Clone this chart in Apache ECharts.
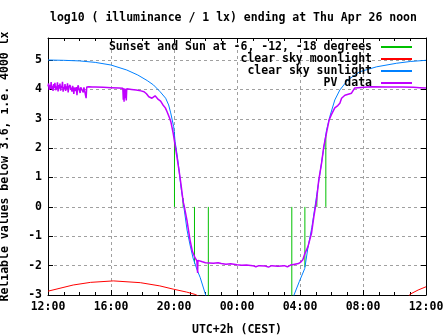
<!DOCTYPE html>
<html><head><meta charset="utf-8">
<script src="https://cdn.jsdelivr.net/npm/echarts/dist/echarts.min.js"></script>
<style>html,body{margin:0;padding:0;background:#fff}#c{width:447px;height:335px}</style>
</head><body><div id="c"></div><script>
// x values are hours since Wed 12:00 (CEST)
const xTickLabels = ['12:00','16:00','20:00','00:00','04:00','08:00','12:00'];
const titleText = 'log10 ( illuminance / 1 lx) ending at Thu Apr 26 noon';
const yAxisTitle = 'Reliable values below 3.6, i.e. 4000 lx';
const xAxisTitle = 'UTC+2h (CEST)';
const seriesNames = ['Sunset and Sun at -6, -12, -18 degrees','clear sky moonlight','clear sky sunlight','PV data'];

// Sun events (impulses from 0): sunset, -6, -12, -18, -18, -12, -6, sunrise
const sunEventHours  = [8.03, 8.58, 9.30, 10.18, 15.48, 16.31, 17.07, 17.64];
const sunEventValues = [2.55, 0.30, -1.93, -3.6, -3.6, -2.05, 0.40, 2.45];

const moonHours  = [0, 0.1, 1.6, 2.7, 4.15, 5.86, 7.1, 7.95, 8.8, 9.34, 9.6, 9.7, 22.9, 23.0, 23.5, 24];
const moonValues = [-2.87, -2.85, -2.66, -2.57, -2.52, -2.58, -2.69, -2.8, -2.9, -2.98, -3.05, null, -3.05, -2.97, -2.83, -2.72];

const sunHours  = [0, 1, 2, 3, 4, 5, 5.7, 6.3, 6.7, 7.12, 7.47, 7.66, 7.79, 7.98, 8.07, 8.2, 8.33, 8.45, 8.58, 8.83, 9.02, 9.21, 9.47, 9.66, 9.91, 10.1, 10.4, 12,
  15.4, 15.62, 15.95, 16.3, 16.5, 16.75, 16.95, 17.2, 17.45, 17.68, 17.89, 18.21, 18.53, 19.03, 19.79, 20.87, 22.13, 23.0, 24];
const sunValues = [5.0, 4.99, 4.97, 4.92, 4.83, 4.66, 4.49, 4.3, 4.15, 3.92, 3.7, 3.47, 3.2, 2.73, 2.22, 1.77, 1.2, 0.64, 0.18, -0.79, -1.3, -1.74, -2.15, -2.4, -2.83, -3.15, -3.6, null,
  -3.6, -3.0, -2.55, -2.1, -1.4, -0.7, 0.0, 0.9, 1.8, 2.6, 3.07, 3.64, 3.98, 4.32, 4.6, 4.77, 4.89, 4.95, 4.99];

const pvHours = [0, 0.04, 0.08, 0.12, 0.16, 0.2, 0.24, 0.28, 0.32, 0.36, 0.4, 0.44, 0.48, 0.52, 0.56, 0.6, 0.64, 0.68, 0.72, 0.76, 0.8, 0.84, 0.88, 0.92, 0.96,
  1.0, 1.04, 1.08, 1.12, 1.16, 1.2, 1.24, 1.28, 1.32, 1.36, 1.4, 1.44, 1.48, 1.52, 1.56, 1.6, 1.64, 1.68, 1.72, 1.76, 1.8, 1.84, 1.88, 1.92, 1.96,
  2.0, 2.04, 2.08, 2.12, 2.16, 2.2, 2.24, 2.28, 2.35, 2.42, 2.46, 2.6, 2.8, 3.0, 3.5, 4.0, 4.5, 4.75, 4.78, 4.8, 4.83, 4.86, 4.9, 4.93, 4.97, 5.0,
  5.3, 5.6, 5.9, 6.1, 6.25, 6.4, 6.5, 6.6, 6.7, 6.8, 6.9, 7.0, 7.15, 7.3, 7.45, 7.56, 7.7, 7.8, 7.95, 8.07, 8.2, 8.33, 8.45, 8.58, 8.64, 8.82,
  9.02, 9.17, 9.34, 9.45, 9.5, 9.52, 9.6, 9.8, 10.0, 10.5, 10.8, 11.0, 11.3, 11.6, 12.0, 12.3, 12.6, 13.0, 13.2, 13.4, 13.8, 14.0, 14.2, 14.6,
  15.0, 15.2, 15.4, 15.6, 15.9, 16.05, 16.18, 16.3, 16.5, 16.73, 16.88, 17.05, 17.19, 17.37, 17.51, 17.68, 17.85, 18.0, 18.21, 18.4, 18.53,
  18.64, 18.85, 19.27, 19.48, 19.6, 20.5, 21.5, 22.5, 23.2, 23.6, 24];
const pvValues = [4.10, 4.20, 3.98, 4.15, 4.02, 4.25, 4.00, 4.12, 3.95, 4.18, 4.05, 4.22, 3.97, 4.10, 4.00, 4.24, 3.93, 4.15, 4.03, 4.20, 3.96, 4.12, 4.05, 4.26, 3.92,
  4.08, 4.00, 4.18, 3.95, 4.10, 4.02, 4.21, 3.90, 4.08, 4.03, 4.15, 3.98, 4.06, 3.92, 4.12, 4.04, 3.85, 4.06, 4.10, 3.95, 4.08, 3.80, 4.06, 4.14, 4.02,
  4.08, 3.88, 4.07, 4.05, 4.10, 4.06, 3.90, 4.07, 4.08, 3.70, 4.08, 4.09, 4.08, 4.08, 4.07, 4.06, 4.05, 4.04, 3.65, 4.04, 3.58, 4.03, 3.70, 4.02, 3.62, 4.02,
  4.00, 3.98, 3.95, 3.92, 3.85, 3.75, 3.72, 3.70, 3.76, 3.78, 3.72, 3.66, 3.60, 3.47, 3.37, 3.24, 3.05, 2.90, 2.50, 2.10, 1.66, 1.20, 0.74, 0.18, 0.05, -0.45,
  -1.13, -1.52, -1.74, -1.83, -2.25, -1.82, -1.85, -1.87, -1.90, -1.92, -1.90, -1.93, -1.95, -1.94, -1.97, -1.99, -1.98, -2.00, -2.04, -2.00, -2.01, -2.05, -2.00, -2.02,
  -2.00, -2.04, -1.98, -1.96, -1.93, -1.88, -1.80, -1.60, -1.36, -0.90, -0.33, 0.23, 0.91, 1.49, 2.05, 2.51, 2.96, 3.15, 3.37, 3.45, 3.53,
  3.70, 3.80, 3.87, 4.05, 4.09, 4.09, 4.08, 4.08, 4.07, 4.06, 4.05];

const pair = (hs, vs) => hs.map((h, i) => [h, vs[i] === null ? '-' : vs[i]]);
const impulses = [];
sunEventHours.forEach((h, i) => { impulses.push([h, 0], [h, sunEventValues[i]], [h, '-']); });

const FONT = '"DejaVu Sans Mono", monospace';
const txt = {fontFamily: FONT, fontWeight: 'bold', fontSize: 11.5, color: '#000'};
const black = {color: '#000', width: 1};
const grid = {show: true, lineStyle: {color: '#a0a0a0', width: 1, type: [3, 3]}};

const chart = echarts.init(document.getElementById('c'), null, {renderer: 'canvas'});
chart.setOption({
  animation: false,
  backgroundColor: '#fff',
  title: {text: titleText, left: 50, top: 12, padding: 0, textStyle: Object.assign({}, txt)},
  legend: {
    orient: 'vertical', right: 34, top: 41, align: 'right', padding: 0,
    itemWidth: 31, itemHeight: 13, itemGap: 0,
    itemStyle: {opacity: 0},
    textStyle: Object.assign({}, txt, {padding: [0, 4, 0, 0]}),
    data: seriesNames
  },
  grid: {left: 48, right: 21, top: 38, bottom: 40, containLabel: false, outerBoundsMode: 'none'},
  xAxis: [
    {type: 'value', min: 0, max: 24, interval: 4, position: 'bottom',
     axisLine: {show: true, onZero: false, lineStyle: black},
     axisTick: {show: true, inside: true, length: 5, lineStyle: black},
     minorTick: {show: true, splitNumber: 4, length: 3, lineStyle: black},
     axisLabel: Object.assign({}, txt, {margin: 6, formatter: v => xTickLabels[Math.round(v / 4)]}),
     splitLine: grid,
     name: xAxisTitle, nameLocation: 'middle', nameGap: 29, nameTextStyle: Object.assign({}, txt)},
    {type: 'value', min: 0, max: 24, interval: 4, position: 'top',
     axisLine: {show: true, onZero: false, lineStyle: black},
     axisTick: {show: true, inside: true, length: 5, lineStyle: black},
     minorTick: {show: true, splitNumber: 4, length: 3, lineStyle: black},
     axisLabel: {show: false}, splitLine: {show: false}}
  ],
  yAxis: [
    {type: 'value', min: -3, max: 5.75, interval: 1, position: 'left',
     axisLine: {show: true, onZero: false, lineStyle: black},
     axisTick: {show: true, inside: true, length: 5, lineStyle: black},
     axisLabel: Object.assign({}, txt, {margin: 6, showMaxLabel: false, formatter: v => (Number.isInteger(v) ? String(v) : '')}),
     splitLine: grid,
     name: yAxisTitle, nameLocation: 'middle', nameGap: 37, nameRotate: 90, nameTextStyle: Object.assign({}, txt)},
    {type: 'value', min: -3, max: 5.75, interval: 1, position: 'right',
     axisLine: {show: true, onZero: false, lineStyle: black},
     axisTick: {show: true, inside: true, length: 5, lineStyle: black},
     axisLabel: {show: false}, splitLine: {show: false}}
  ],
  series: [
    {name: seriesNames[0], type: 'line', data: impulses, symbol: 'none', connectNulls: false,
     lineStyle: {color: '#00c000', width: 1}, itemStyle: {color: '#00c000'}, clip: true},
    {name: seriesNames[1], type: 'line', data: pair(moonHours, moonValues), symbol: 'none', connectNulls: false,
     lineStyle: {color: '#ff0000', width: 1}, itemStyle: {color: '#ff0000'}, clip: true},
    {name: seriesNames[2], type: 'line', data: pair(sunHours, sunValues), symbol: 'none', connectNulls: false,
     lineStyle: {color: '#0080ff', width: 1}, itemStyle: {color: '#0080ff'}, clip: true},
    {name: seriesNames[3], type: 'line', data: pair(pvHours, pvValues), symbol: 'none',
     lineStyle: {color: '#c000ff', width: 1.5}, itemStyle: {color: '#c000ff'}, clip: true}
  ]
});
</script></body></html>
